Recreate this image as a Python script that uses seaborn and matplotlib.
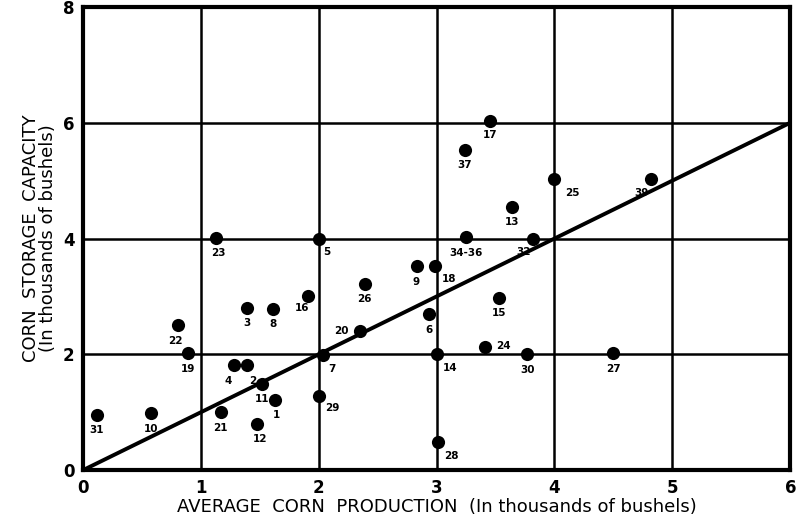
import matplotlib
matplotlib.use("Agg")
import matplotlib.pyplot as plt
import seaborn as sns
import pandas as pd

# Data
labels = ["31", "10", "22", "19", "23", "3", "8", "4", "2", "11", "1", "21", "12",
          "16", "5", "7", "29", "26", "20", "9", "18", "6", "34-36", "15", "24",
          "14", "30", "27", "28", "17", "37", "25", "39", "13", "32"]
production = [0.12, 0.58, 0.81, 0.89, 1.13, 1.39, 1.61, 1.28, 1.39, 1.52, 1.63, 1.17, 1.48,
              1.91, 2.00, 2.04, 2.00, 2.39, 2.35, 2.83, 2.99, 2.94, 3.25, 3.53, 3.41,
              3.00, 3.77, 4.50, 3.01, 3.45, 3.24, 4.00, 4.82, 3.64, 3.82]
storage = [0.95, 0.98, 2.50, 2.02, 4.01, 2.80, 2.79, 1.81, 1.81, 1.49, 1.22, 1.00, 0.80,
           3.01, 4.00, 1.99, 1.29, 3.22, 2.40, 3.52, 3.52, 2.69, 4.02, 2.97, 2.12,
           2.00, 2.00, 2.02, 0.48, 6.03, 5.53, 5.03, 5.03, 4.55, 4.00]
line_x = [0, 6]
line_y = [0, 6]
x_ticks = [0, 1, 2, 3, 4, 5, 6]
y_ticks = [0, 2, 4, 6, 8]

# label offsets in points (dx, dy)
offsets = {
    "31": (0, -11), "10": (0, -11), "22": (-2, -11), "19": (0, -11), "23": (2, -11),
    "3": (0, -11), "8": (0, -11), "4": (-4, -11), "2": (4, -11), "11": (0, -11),
    "1": (1, -11), "21": (0, -11), "12": (2, -11), "16": (-4, -9), "5": (6, -10),
    "7": (6, -10), "29": (10, -9), "26": (0, -11), "20": (-13, 0), "9": (0, -11),
    "18": (10, -9), "6": (0, -11), "34-36": (0, -11), "15": (0, -11), "24": (13, 1),
    "14": (10, -10), "30": (0, -11), "27": (0, -11), "28": (10, -10), "17": (0, -10),
    "37": (0, -11), "25": (13, -10), "39": (-7, -10), "13": (0, -11), "32": (-7, -10),
}

df = pd.DataFrame({"production": production, "storage": storage, "label": labels})
line_df = pd.DataFrame({"x": line_x, "y": line_y})

sns.set_theme(style="white")
plt.rcParams["font.family"] = ["DejaVu Sans"]
plt.rcParams["text.color"] = "black"
plt.rcParams["axes.labelcolor"] = "black"
plt.rcParams["xtick.color"] = "black"
plt.rcParams["ytick.color"] = "black"

fig = plt.figure(figsize=(8.04, 5.26), dpi=100)
ax = fig.add_axes([0.103, 0.106, 0.880, 0.881])

for xv in x_ticks:
    ax.axvline(xv, color="black", lw=1.8, zorder=1)
for yv in y_ticks:
    ax.axhline(yv, color="black", lw=1.8, zorder=1)

sns.lineplot(data=line_df, x="x", y="y", color="black", lw=2.8, ax=ax, zorder=2)
sns.scatterplot(data=df, x="production", y="storage", color="black", s=90,
                edgecolor="black", linewidth=0, ax=ax, zorder=3)

for lab, xv, yv in zip(labels, production, storage):
    dx, dy = offsets.get(lab, (0, -11))
    ax.annotate(lab, (xv, yv), xytext=(dx, dy), textcoords="offset points",
                ha="center", va="center", fontsize=7.5, fontweight="bold",
                color="black", zorder=4)

ax.set_xlim(0, 6)
ax.set_ylim(0, 8)
ax.set_xticks(x_ticks)
ax.set_yticks(y_ticks)
ax.set_xticklabels([str(v) for v in x_ticks], fontsize=12, fontweight="bold", color="black")
ax.set_yticklabels([str(v) for v in y_ticks], fontsize=12, fontweight="bold", color="black")
ax.tick_params(axis="both", length=0, pad=6)

ax.set_xlabel("AVERAGE  CORN  PRODUCTION  (In thousands of bushels)", fontsize=13,
              labelpad=1, color="black")
ax.set_ylabel("CORN  STORAGE  CAPACITY\n(In thousands of bushels)", fontsize=13,
              labelpad=4, linespacing=0.95, color="black")

for sp in ax.spines.values():
    sp.set_visible(True)
    sp.set_color("black")
    sp.set_linewidth(3)

fig.savefig("out.png", dpi=100, facecolor="white")
